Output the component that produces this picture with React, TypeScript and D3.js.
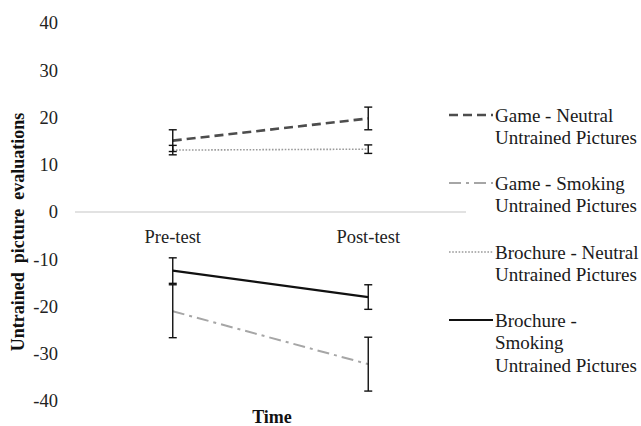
import React, { useEffect, useRef } from 'react';
import * as d3 from 'd3';

// categories on the x axis
const times = ['Pre-test', 'Post-test'];

// series means
const gameNeutral = [15.1, 19.8];
const gameSmoking = [-21.0, -32.2];
const brochureNeutral = [13.1, 13.3];
const brochureSmoking = [-12.4, -18.0];

// error bar half-widths
const gameNeutralErr = [2.3, 2.4];
const gameSmokingErr = [5.6, 5.7];
const brochureNeutralErr = [1.0, 0.9];
const brochureSmokingErr = [2.7, 2.6];

const yTicks = [-40, -30, -20, -10, 0, 10, 20, 30, 40];

const legendLabels = [
  ['Game - Neutral', 'Untrained Pictures'],
  ['Game - Smoking', 'Untrained Pictures'],
  ['Brochure - Neutral', 'Untrained Pictures'],
  ['Brochure -', 'Smoking', 'Untrained Pictures'],
];

function App() {
  const ref = useRef<SVGSVGElement>(null);

  useEffect(() => {
    drawChart();
  }, []);

  function drawChart() {
    const svgWidth = 641, svgHeight = 426;
    const font = '"Liberation Serif", "Times New Roman", serif';

    const svg = d3.select(ref.current)
      .attr('width', svgWidth)
      .attr('height', svgHeight);
    svg.selectAll('*').remove();

    const x = d3.scaleBand().domain(times).range([75, 466]);
    const y = d3.scaleLinear().domain([-40, 40]).range([401, 23]);
    const cx = (t: string) => (x(t) as number) + x.bandwidth() / 2;

    // zero line
    svg.append('line')
      .attr('x1', 75).attr('x2', 466)
      .attr('y1', y(0)).attr('y2', y(0))
      .attr('stroke', '#d9d9d9')
      .attr('stroke-width', 1.5);

    // y tick labels
    svg.append('g')
      .selectAll('text')
      .data(yTicks)
      .join('text')
      .attr('x', 58)
      .attr('y', d => y(d))
      .attr('dy', '0.35em')
      .attr('text-anchor', 'end')
      .attr('font-family', font)
      .attr('font-size', 18.5)
      .attr('fill', '#222')
      .text(d => d);

    // category labels
    svg.append('g')
      .selectAll('text')
      .data(times)
      .join('text')
      .attr('x', d => cx(d))
      .attr('y', y(0) + 25)
      .attr('dy', '0.35em')
      .attr('text-anchor', 'middle')
      .attr('font-family', font)
      .attr('font-size', 18.5)
      .attr('fill', '#222')
      .text(d => d);

    // axis titles
    svg.append('text')
      .attr('transform', 'translate(18,' + 232 + ') rotate(-90)')
      .attr('dy', '0.35em')
      .attr('text-anchor', 'middle')
      .attr('font-family', font)
      .attr('font-weight', 'bold')
      .attr('font-size', 18)
      .attr('fill', '#111')
      .style('white-space', 'pre')
      .text('Untrained  picture  evaluations');

    svg.append('text')
      .attr('x', 272)
      .attr('y', 417)
      .attr('dy', '0.35em')
      .attr('text-anchor', 'middle')
      .attr('font-family', font)
      .attr('font-weight', 'bold')
      .attr('font-size', 18)
      .attr('fill', '#111')
      .text('Time');

    const series = [
      { values: gameNeutral, err: gameNeutralErr, color: '#4d4d4d', width: 2.6, dash: '9,5' },
      { values: gameSmoking, err: gameSmokingErr, color: '#a6a6a6', width: 2, dash: '12,5,3,5' },
      { values: brochureNeutral, err: brochureNeutralErr, color: '#9a9a9a', width: 1.6, dash: '1.6,1.6' },
      { values: brochureSmoking, err: brochureSmokingErr, color: '#111', width: 2.2, dash: null },
    ];

    const line = d3.line<number>()
      .x((d, i) => cx(times[i]))
      .y(d => y(d));

    series.forEach(s => {
      svg.append('path')
        .datum(s.values)
        .attr('fill', 'none')
        .attr('stroke', s.color)
        .attr('stroke-width', s.width)
        .attr('stroke-dasharray', s.dash)
        .attr('d', line);
    });

    // error bars
    series.forEach(s => {
      const g = svg.append('g').attr('stroke', '#111').attr('stroke-width', 1.4);
      s.values.forEach((v, i) => {
        const px = cx(times[i]);
        const top = y(v + s.err[i]);
        const bot = y(v - s.err[i]);
        g.append('line').attr('x1', px).attr('x2', px).attr('y1', top).attr('y2', bot);
        g.append('line').attr('x1', px - 4).attr('x2', px + 4).attr('y1', top).attr('y2', top);
        g.append('line').attr('x1', px - 4).attr('x2', px + 4).attr('y1', bot).attr('y2', bot);
      });
    });

    // legend
    const legendTops = [115, 183, 252, 320];
    const leg = svg.append('g');
    series.forEach((s, i) => {
      const ly = legendTops[i];
      leg.append('line')
        .attr('x1', 449).attr('x2', 493)
        .attr('y1', ly).attr('y2', ly)
        .attr('stroke', s.color)
        .attr('stroke-width', s.width)
        .attr('stroke-dasharray', s.dash);
      legendLabels[i].forEach((t, j) => {
        leg.append('text')
          .attr('x', 495)
          .attr('y', ly + j * 22.5)
          .attr('dy', '0.35em')
          .attr('font-family', font)
          .attr('font-size', 19)
          .attr('fill', '#1a1a1a')
          .text(t);
      });
    });
  }

  return (
    <div style={{ position: 'absolute', left: 0, top: 0 }}>
      <svg ref={ref} style={{ display: 'block' }}></svg>
    </div>
  );
}

export default App;
